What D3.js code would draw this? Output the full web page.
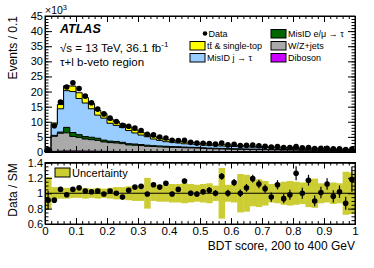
<!DOCTYPE html>
<html>
<head>
<meta charset="utf-8">
<script src="https://cdn.jsdelivr.net/npm/d3@7"></script>
<style>
  html, body { margin: 0; padding: 0; background: #fff; }
  svg { display: block; font-family: 'Liberation Sans', Arial, sans-serif; }
</style>
</head>
<body>
<div id="chart"></div>
<script>
// BDT score bins (0..1, width 0.02)
const binLow = d3.range(50).map(i => i * 0.02);
const binWidth = 0.02;

// stacked backgrounds, in thousands of events
const diboson = [0.02, 0.2, 0.3, 0.35, 0.35, 0.33, 0.3, 0.28, 0.25, 0.23, 0.2, 0.18, 0.16, 0.15, 0.14, 0.12, 0.1, 0.1, 0.1, 0.1,
  0.1, 0.1, 0.1, 0.1, 0.1, 0.1, 0.05, 0.05, 0.05, 0.05, 0.05, 0.05, 0.05, 0.05, 0.05, 0.05, 0.05, 0.05, 0.05, 0.05,
  0.05, 0.05, 0.05, 0.05, 0.05, 0.05, 0.05, 0.05, 0.05, 0.05];
const wzJets = [0.4, 5.0, 5.9, 6.0, 4.8, 4.5, 4.0, 3.8, 3.6, 3.1, 2.9, 2.8, 2.6, 2.2, 2.1, 2.0, 1.8, 1.7, 1.6, 1.5,
  1.45, 1.4, 1.3, 1.25, 1.2, 1.1, 1.05, 1.0, 0.95, 0.9, 0.85, 0.82, 0.78, 0.75, 0.72, 0.7, 0.68, 0.65, 0.62, 0.6,
  0.57, 0.55, 0.52, 0.5, 0.48, 0.46, 0.44, 0.42, 0.4, 0.36];
const misidLep = [0.05, 0.3, 0.4, 1.8, 1.3, 0.9, 0.8, 0.8, 0.7, 0.6, 0.5, 0.5, 0.45, 0.4, 0.4, 0.35, 0.35, 0.3, 0.3, 0.3,
  0.25, 0.25, 0.25, 0.22, 0.22, 0.2, 0.2, 0.2, 0.18, 0.18, 0.17, 0.17, 0.16, 0.16, 0.15, 0.15, 0.14, 0.14, 0.13, 0.13,
  0.12, 0.12, 0.11, 0.11, 0.1, 0.1, 0.1, 0.1, 0.1, 0.1];
const misidJet = [0.38, 3.6, 7.7, 12.15, 13.55, 11.97, 11.1, 9.42, 7.65, 7.27, 5.9, 5.32, 4.89, 4.35, 3.66, 3.13, 2.8, 2.2, 1.85, 1.5,
  1.45, 1.25, 1.07, 1.07, 0.94, 0.93, 0.9, 0.87, 0.81, 0.78, 0.76, 0.73, 0.7, 0.65, 0.61, 0.59, 0.53, 0.49, 0.47, 0.45,
  0.42, 0.39, 0.38, 0.35, 0.33, 0.3, 0.27, 0.23, 0.2, 0.14];
const ttbar = [0.05, 0.5, 1.4, 1.6, 1.8, 1.9, 1.8, 1.7, 1.6, 1.5, 1.4, 1.3, 1.2, 1.1, 1.0, 0.9, 0.85, 0.8, 0.75, 0.7,
  0.65, 0.6, 0.58, 0.56, 0.54, 0.52, 0.5, 0.48, 0.46, 0.44, 0.42, 0.38, 0.36, 0.34, 0.32, 0.31, 0.3, 0.29, 0.28, 0.27,
  0.26, 0.25, 0.24, 0.23, 0.22, 0.21, 0.2, 0.2, 0.2, 0.2];

const dataCounts = [0.82, 8.7, 16.5, 21.5, 22.9, 21.0, 18.5, 16.3, 14.2, 12.6, 11.2, 10.1, 8.8, 8.5, 7.9, 7.1, 5.85, 5.65, 4.95, 4.65,
  3.85, 3.8, 3.85, 3.2, 2.95, 2.9, 2.8, 2.6, 3.0, 2.35, 2.55, 2.15, 2.2, 2.3, 2.05, 1.9, 1.6, 1.8, 1.45, 1.47,
  1.8, 1.36, 1.5, 1.12, 1.2, 1.25, 1.02, 1.02, 0.83, 1.0];

// Data / SM
const ratio = [0.91, 0.91, 1.05, 0.98, 1.05, 1.07, 1.03, 1.02, 1.03, 0.99, 1.03, 1.0, 0.95, 1.04, 1.08, 1.09, 0.99, 1.11, 1.08, 1.13,
  0.99, 1.05, 1.16, 1.0, 0.99, 1.02, 1.04, 1.0, 1.22, 1.0, 1.14, 1.0, 1.07, 1.19, 1.12, 1.06, 0.95, 1.11, 0.93, 0.98,
  1.26, 1.0, 1.17, 0.9, 1.01, 1.12, 0.96, 1.02, 0.87, 1.18];
const ratioErr = [0.12, 0.01, 0.01, 0.01, 0.01, 0.01, 0.01, 0.01, 0.01, 0.01, 0.012, 0.012, 0.015, 0.015, 0.015, 0.02, 0.02, 0.02, 0.025, 0.025,
  0.03, 0.03, 0.03, 0.035, 0.035, 0.035, 0.04, 0.04, 0.045, 0.045, 0.045, 0.05, 0.05, 0.05, 0.055, 0.055, 0.06, 0.06, 0.06, 0.065,
  0.09, 0.07, 0.07, 0.07, 0.075, 0.075, 0.08, 0.08, 0.085, 0.16];
const uncert = [0.21, 0.08, 0.07, 0.07, 0.06, 0.06, 0.07, 0.06, 0.07, 0.06, 0.07, 0.08, 0.08, 0.09, 0.1, 0.1, 0.2, 0.1, 0.11, 0.11,
  0.12, 0.12, 0.13, 0.12, 0.11, 0.12, 0.13, 0.1, 0.33, 0.11, 0.12, 0.25, 0.24, 0.17, 0.18, 0.16, 0.12, 0.13, 0.15, 0.16,
  0.15, 0.14, 0.18, 0.19, 0.13, 0.12, 0.14, 0.13, 0.28, 0.27];

const legendItems = [
  { label: 'tt\u0304 & single-top', color: '#ffff00', col: 0, row: 1 },
  { label: 'MisID j \u2192 \u03c4', color: '#99ccff', col: 0, row: 2 },
  { label: 'MisID e/\u03bc \u2192 \u03c4', color: '#006600', col: 1, row: 0 },
  { label: 'W/Z+jets', color: '#aaaaaa', col: 1, row: 1 },
  { label: 'Diboson', color: '#cc00ff', col: 1, row: 2 }
];

const xTicks = [0, 0.1, 0.2, 0.3, 0.4, 0.5, 0.6, 0.7, 0.8, 0.9, 1];
const yTopTicks = [0, 5, 10, 15, 20, 25, 30, 35, 40, 45];
const yRatioTicks = [0.6, 0.8, 1, 1.2, 1.4];

const W = 374, H = 268;
const svg = d3.select('#chart').append('svg').attr('width', W).attr('height', H);

const x = d3.scaleLinear().domain([0, 1]).range([45, 355]);
const yTop = d3.scaleLinear().domain([0, 45]).range([152, 16]);
const yRat = d3.scaleLinear().domain([0.6, 1.4]).range([224, 162.5]);

// cumulative stack, bottom to top
const layers = [
  { values: diboson, color: '#cc00ff' },
  { values: wzJets, color: '#aaaaaa' },
  { values: misidLep, color: '#006600' },
  { values: misidJet, color: '#99ccff' },
  { values: ttbar, color: '#ffff00' }
];
let running = binLow.map(() => 0);
layers.forEach(l => {
  running = running.map((v, i) => v + l.values[i]);
  l.cum = running.slice();
});

const stepArea = vals => {
  const pts = [];
  binLow.forEach((lo, i) => {
    pts.push([lo, vals[i]]);
    pts.push([lo + binWidth, vals[i]]);
  });
  return d3.area().x(d => x(d[0])).y0(yTop(0)).y1(d => yTop(d[1]))(pts);
};

const gStack = svg.append('g');
layers.slice().reverse().forEach(l => {
  gStack.append('path')
    .attr('d', stepArea(l.cum))
    .attr('fill', l.color)
    .attr('stroke', '#000')
    .attr('stroke-width', 1);
});

// data points
svg.append('g').selectAll('circle')
  .data(dataCounts)
  .join('circle')
  .attr('cx', (d, i) => x(binLow[i] + binWidth / 2))
  .attr('cy', d => yTop(d))
  .attr('r', 2.8)
  .attr('fill', '#000');

// axes helper: inward ticks on all four sides
function frame(yScale, yMajor, yMinor, xLabels, yFmt) {
  const [y0, y1] = yScale.range();
  svg.append('g').attr('transform', `translate(0,${y0})`)
    .call(d3.axisBottom(x).tickValues(xTicks).tickSize(-6).tickPadding(3)
      .tickFormat(xLabels ? d3.format('') : ''))
    .call(g => g.selectAll('text').attr('font-size', 11.5).attr('fill', '#000'));
  svg.append('g').attr('transform', `translate(0,${y0})`)
    .call(d3.axisBottom(x).tickValues(d3.range(0, 1.001, 0.02)).tickSize(-3).tickFormat(''));
  svg.append('g').attr('transform', `translate(0,${y1})`)
    .call(d3.axisTop(x).tickValues(xTicks).tickSize(-6).tickFormat(''));
  svg.append('g').attr('transform', `translate(0,${y1})`)
    .call(d3.axisTop(x).tickValues(d3.range(0, 1.001, 0.02)).tickSize(-3).tickFormat(''));
  svg.append('g').attr('transform', `translate(${x(0)},0)`)
    .call(d3.axisLeft(yScale).tickValues(yMajor).tickSize(-7).tickPadding(2).tickFormat(yFmt))
    .call(g => g.selectAll('text').attr('font-size', 11).attr('fill', '#000'));
  svg.append('g').attr('transform', `translate(${x(0)},0)`)
    .call(d3.axisLeft(yScale).tickValues(yMinor).tickSize(-3.5).tickFormat(''));
  svg.append('g').attr('transform', `translate(${x(1)},0)`)
    .call(d3.axisRight(yScale).tickValues(yMajor).tickSize(-7).tickFormat(''));
  svg.append('g').attr('transform', `translate(${x(1)},0)`)
    .call(d3.axisRight(yScale).tickValues(yMinor).tickSize(-3.5).tickFormat(''));
  svg.selectAll('.domain').attr('stroke', '#000');
  svg.append('rect')
    .attr('x', x(0)).attr('y', y1)
    .attr('width', x(1) - x(0)).attr('height', y0 - y1)
    .attr('fill', 'none').attr('stroke', '#000').attr('stroke-width', 1);
}

frame(yTop, yTopTicks, d3.range(0, 45.01, 1), false, d3.format(''));

// ratio panel: uncertainty band
svg.append('g').selectAll('rect')
  .data(uncert)
  .join('rect')
  .attr('x', (d, i) => x(binLow[i]))
  .attr('width', (d, i) => x(binLow[i] + binWidth) - x(binLow[i]) + 0.3)
  .attr('y', d => yRat(1 + d))
  .attr('height', d => yRat(1 - d) - yRat(1 + d))
  .attr('fill', '#cccc33');

svg.append('line')
  .attr('x1', x(0)).attr('x2', x(1))
  .attr('y1', yRat(1)).attr('y2', yRat(1))
  .attr('stroke', '#000').attr('stroke-width', 1);

const gRat = svg.append('g');
gRat.selectAll('line')
  .data(ratio)
  .join('line')
  .attr('x1', (d, i) => x(binLow[i] + binWidth / 2))
  .attr('x2', (d, i) => x(binLow[i] + binWidth / 2))
  .attr('y1', (d, i) => yRat(Math.min(1.4, d + ratioErr[i])))
  .attr('y2', (d, i) => yRat(Math.max(0.6, d - ratioErr[i])))
  .attr('stroke', '#000').attr('stroke-width', 1.2);
gRat.selectAll('circle')
  .data(ratio)
  .join('circle')
  .attr('cx', (d, i) => x(binLow[i] + binWidth / 2))
  .attr('cy', d => yRat(d))
  .attr('r', 2.8)
  .attr('fill', '#000');

frame(yRat, yRatioTicks, d3.range(0.6, 1.401, 0.05), true, d3.format(''));

// uncertainty legend
svg.append('rect').attr('x', 55).attr('y', 168).attr('width', 15).attr('height', 9)
  .attr('fill', '#cccc33').attr('stroke', '#000').attr('stroke-width', 1);
svg.append('text').attr('x', 72).attr('y', 176.5).attr('font-size', 11).text('Uncertainty');

// labels
svg.append('text')
  .attr('transform', 'translate(17,16) rotate(-90)')
  .attr('text-anchor', 'end').attr('font-size', 12)
  .text('Events / 0.1');
svg.append('text')
  .attr('transform', 'translate(17,190) rotate(-90)')
  .attr('text-anchor', 'middle').attr('font-size', 12)
  .text('Data / SM');
svg.append('text')
  .attr('x', 355).attr('y', 250)
  .attr('text-anchor', 'end').attr('font-size', 12)
  .text('BDT score, 200 to 400 GeV');

const exp = svg.append('text').attr('x', 45).attr('y', 14).attr('font-size', 10.5).text('\u00d710');
exp.append('tspan').attr('dy', -4).attr('font-size', 7.5).text('3');

svg.append('text')
  .attr('x', 60).attr('y', 32.5)
  .attr('font-size', 12.5).attr('font-weight', 'bold').attr('font-style', 'italic')
  .text('ATLAS');
const lumi = svg.append('text').attr('x', 60).attr('y', 51.5).attr('font-size', 11.5)
  .text('\u221as = 13 TeV, 36.1 fb');
lumi.append('tspan').attr('dy', -4.5).attr('font-size', 8).text('-1');
svg.append('text').attr('x', 60).attr('y', 65.5).attr('font-size', 11.5)
  .text('\u03c4+l b-veto region');

// main legend
const legend = svg.append('g').attr('font-size', 9);
const colX = [190, 271];
const rowY = [29.5, 41.5, 53.5];
legend.append('circle').attr('cx', 205).attr('cy', rowY[0] + 4).attr('r', 2.3).attr('fill', '#000');
legend.append('text').attr('x', 208.5).attr('y', rowY[0] + 7.3).text('Data');
legendItems.forEach(d => {
  legend.append('rect')
    .attr('x', colX[d.col]).attr('y', rowY[d.row])
    .attr('width', 15).attr('height', 8.5)
    .attr('fill', d.color).attr('stroke', '#000').attr('stroke-width', 1);
  legend.append('text')
    .attr('x', colX[d.col] + 17).attr('y', rowY[d.row] + 7.5)
    .text(d.label);
});
</script>
</body>
</html>
